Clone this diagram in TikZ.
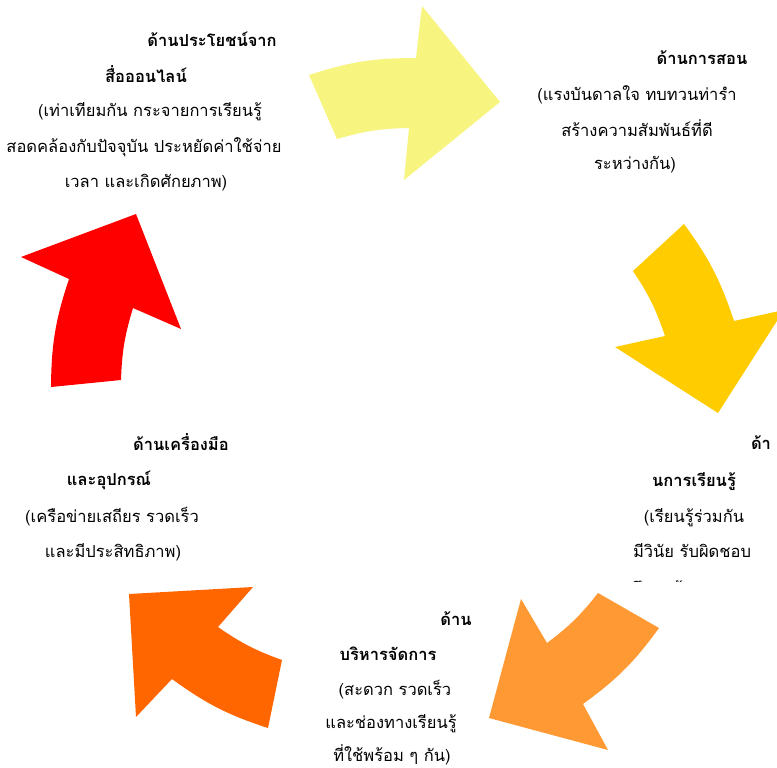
\documentclass[tikz,border=0pt]{standalone}
\usepackage{fontspec}
\newfontfamily\thai[Script=Thai]{Loma}
\definecolor{cyellow}{RGB}{247,245,128}
\definecolor{cgold}{HTML}{FFCC00}
\definecolor{corange}{HTML}{FF9933}
\definecolor{cdorange}{HTML}{FF6600}
\definecolor{cred}{HTML}{FF0000}
\begin{document}
\begin{tikzpicture}[x=1pt,y=-1pt,
  txt/.style={anchor=base,inner sep=0pt,font=\thai\fontsize{16.5}{20}\selectfont},
  hd/.style={anchor=base,inner sep=0pt,font=\thai\bfseries\fontsize{16.5}{20}\selectfont}]
\useasboundingbox[fill=white] (0,0) rectangle (777,768);
% arrows
\fill[cyellow] (309,75) to[bend left=9] (416,58) -- (422,6) -- (500,102) -- (404,180) -- (409,128) to[bend right=7.5] (337,139) -- cycle;
\begin{scope}
\clip (0,0) rectangle (777,768);
\fill[cgold] (633,271) -- (684,224) to[bend left=9] (734,321) -- (784,310) -- (718,413) -- (615,347) -- (665,336) to[bend right=7.5] cycle;
\end{scope}
\fill[corange] (598,593) -- (659,628) to[bend left=9] (583,704) -- (608,750) -- (489,718) -- (521,599) -- (547,643) to[bend right=7.5] cycle;
\fill[cdorange] (282,660) -- (268,728) to[bend left=9] (172,679) -- (136,717) -- (129,594) -- (253,587) -- (218,627) to[bend right=7.5] cycle;
\fill[cred] (51,387) -- (121,380) to[bend left=7.5] (133,308) -- (181,329) -- (136,214) -- (21,257) -- (69,279) to[bend right=9] cycle;
% top-left text
\node[hd]  (tl1) at (212,47)  {ด้านประโยชน์จาก};
\node[hd]  (tl2) at (146,82)  {สื่อออนไลน์};
\node[txt] (tl3) at (150,117) {(เท่าเทียมกัน กระจายการเรียนรู้};
\node[txt] (tl4) at (144,152) {สอดคล้องกับปัจจุบัน ประหยัดค่าใช้จ่าย};
\node[txt] (tl5) at (146,187) {เวลา และเกิดศักยภาพ)};
% top-right text
\node[hd]  (tr1) at (702,65)  {ด้านการสอน};
\node[txt] (tr2) at (637,101) {(แรงบันดาลใจ ทบทวนท่ารำ};
\node[txt] (tr3) at (637,136) {สร้างความสัมพันธ์ที่ดี};
\node[txt] (tr4) at (635,169) {ระหว่างกัน)};
% right text
\node[hd]  (r1) at (761,449) {ด้า};
\node[hd]  (r2) at (694,486) {นการเรียนรู้};
\node[txt] (r3) at (694,522) {(เรียนรู้ร่วมกัน};
\node[txt] (r4) at (692,557) {มีวินัย รับผิดชอบ};
\begin{scope}
\clip (600,562) rectangle (777,581);
\node[txt] (r5) at (692,594) {ศึกษาด้วยตนเอง)};
\end{scope}
% left text
\node[hd]  (l1) at (181,450) {ด้านเครื่องมือ};
\node[hd]  (l2) at (109,485) {และอุปกรณ์};
\node[txt] (l3) at (112,522) {(เครือข่ายเสถียร รวดเร็ว};
\node[txt] (l4) at (113,557) {และมีประสิทธิภาพ)};
% bottom text
\node[hd]  (b1) at (456,625) {ด้าน};
\node[hd]  (b2) at (388,660) {บริหารจัดการ};
\node[txt] (b3) at (395,695) {(สะดวก รวดเร็ว};
\node[txt] (b4) at (391,728) {และช่องทางเรียนรู้};
\node[txt] (b5) at (392,761) {ที่ใช้พร้อม ๆ กัน)};
\end{tikzpicture}
\end{document}
